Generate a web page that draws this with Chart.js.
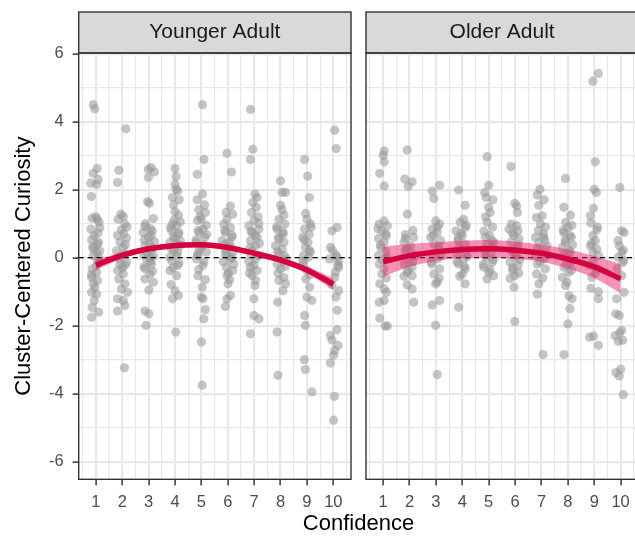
<!DOCTYPE html>
<html>
<head>
<meta charset="utf-8">
<script src="https://cdn.jsdelivr.net/npm/chart.js@4/dist/chart.umd.min.js"></script>
<style>
  html, body { margin: 0; padding: 0; background: #fff; overflow: hidden; }
  #wrap { position: relative; width: 635px; height: 537px; overflow: hidden; }
  canvas { position: absolute; top: 0; }
  #young { left: 0; }
  #old { left: 358px; }
  #xtitle {
    position: absolute; left: 78px; width: 561px; top: 510px;
    text-align: center; color: #000;
    font: 22px 'Liberation Sans', Arial, sans-serif; line-height: 26px;
  }
</style>
</head>
<body>
<div id="wrap">
  <canvas id="young" width="358" height="537"></canvas>
  <canvas id="old" width="285" height="537"></canvas>
  <div id="xtitle">Confidence</div>
</div>
<script>
// confidence levels and axis breaks
const confidence = [1, 2, 3, 4, 5, 6, 7, 8, 9, 10];
const xGrid = [0.5, 1, 1.5, 2, 2.5, 3, 3.5, 4, 4.5, 5, 5.5, 6, 6.5, 7, 7.5, 8, 8.5, 9, 9.5, 10, 10.5];
const yGrid = [-6, -5, -4, -3, -2, -1, 0, 1, 2, 3, 4, 5, 6];

// younger adults: curiosity per confidence level, plus horizontal jitter
const youngerCuriosity = [
  [4.5, 4.38, 2.62, 2.48, 2.3, 2.19, 2.15, 1.8, 1.2, 1.16, 1.13, 1.05, 0.88, 0.84, 0.72, 0.65, 0.53, 0.45, 0.4, 0.32, 0.27, 0.2, 0.16, 0.06, 0.0, -0.08, -0.14, -0.23, -0.33, -0.43, -0.5, -0.58, -0.67, -0.77, -0.87, -1.02, -1.07, -1.26, -1.46, -1.6, -1.75],
  [3.79, 2.57, 2.21, 1.28, 1.21, 1.13, 0.99, 0.9, 0.82, 0.7, 0.65, 0.57, 0.45, 0.38, 0.3, 0.2, 0.11, 0.05, -0.04, -0.14, -0.19, -0.23, -0.3, -0.38, -0.48, -0.63, -0.77, -0.92, -1.02, -1.21, -1.26, -1.41, -1.57, -3.24],
  [2.65, 2.6, 2.52, 2.36, 1.65, 1.6, 1.15, 1.0, 0.92, 0.85, 0.79, 0.74, 0.65, 0.6, 0.52, 0.47, 0.4, 0.35, 0.28, 0.23, 0.15, 0.11, 0.06, 0.0, -0.04, -0.12, -0.19, -0.27, -0.33, -0.4, -0.48, -0.63, -0.72, -0.95, -1.57, -1.65, -1.99],
  [2.62, 2.39, 2.16, 2.01, 1.96, 1.77, 1.7, 1.55, 1.35, 1.25, 1.11, 1.05, 0.99, 0.94, 0.88, 0.79, 0.74, 0.69, 0.62, 0.55, 0.5, 0.45, 0.4, 0.35, 0.28, 0.21, 0.15, 0.08, 0.02, -0.09, -0.16, -0.23, -0.3, -0.38, -0.53, -0.79, -0.97, -1.11, -1.21, -2.19],
  [4.5, 2.89, 2.45, 1.87, 1.7, 1.55, 1.41, 1.33, 1.2, 1.13, 1.09, 0.95, 0.84, 0.8, 0.74, 0.68, 0.6, 0.52, 0.45, 0.38, 0.3, 0.22, 0.16, 0.1, 0.06, -0.04, -0.12, -0.23, -0.35, -0.53, -0.65, -0.87, -1.16, -1.21, -1.53, -1.8, -2.48, -3.75],
  [3.07, 2.52, 1.52, 1.33, 1.28, 1.13, 0.99, 0.89, 0.8, 0.74, 0.66, 0.6, 0.5, 0.45, 0.4, 0.32, 0.25, 0.16, 0.11, 0.06, 0.0, -0.04, -0.12, -0.19, -0.28, -0.38, -0.45, -0.53, -0.65, -0.77, -1.11, -1.21, -1.44],
  [4.36, 3.19, 2.89, 1.87, 1.77, 1.62, 1.48, 1.33, 1.2, 1.09, 1.0, 0.94, 0.84, 0.78, 0.74, 0.65, 0.6, 0.5, 0.42, 0.35, 0.28, 0.21, 0.11, 0.06, -0.04, -0.12, -0.23, -0.28, -0.38, -0.45, -0.53, -0.67, -0.82, -1.21, -1.7, -1.8, -2.24],
  [2.26, 1.92, 1.92, 1.54, 1.41, 1.25, 1.13, 0.99, 0.9, 0.84, 0.75, 0.69, 0.6, 0.55, 0.45, 0.35, 0.25, 0.18, 0.11, 0.05, -0.04, -0.1, -0.19, -0.25, -0.33, -0.45, -0.58, -0.67, -0.77, -0.97, -1.31, -2.19, -3.46],
  [2.89, 2.4, 1.77, 1.3, 1.13, 0.99, 0.9, 0.84, 0.69, 0.6, 0.52, 0.45, 0.3, 0.22, 0.16, 0.06, 0.01, -0.1, -0.19, -0.38, -0.5, -0.63, -0.87, -1.16, -1.26, -1.7, -1.99, -3.0, -3.29, -3.95],
  [3.75, 3.21, 0.89, 0.79, 0.3, 0.21, 0.08, 0.01, -0.04, -0.12, -0.23, -0.28, -0.43, -0.58, -0.8, -0.97, -1.16, -1.55, -2.12, -2.29, -2.43, -2.58, -2.73, -2.87, -3.1, -4.08, -4.78]
];
const youngerJitter = [
  [-0.1, -0.04, 0.05, -0.1, 0.09, -0.19, 0.03, -0.17, 0.0, -0.14, 0.05, 0.12, 0.15, -0.19, 0.08, -0.06, -0.16, 0.1, 0.06, -0.12, -0.1, 0.15, 0.03, -0.1, 0.12, 0.06, 0.11, 0.03, -0.14, 0.03, -0.17, -0.16, 0.06, -0.1, -0.04, -0.16, 0.03, -0.06, -0.14, 0.11, -0.16],
  [0.14, -0.13, -0.18, -0.05, 0.04, -0.15, 0.1, 0.18, -0.03, 0.06, -0.18, 0.16, -0.09, 0.12, 0.04, -0.22, 0.1, -0.1, -0.09, 0.16, -0.09, 0.1, 0.0, -0.18, 0.04, -0.13, 0.1, -0.03, 0.2, -0.18, 0.04, 0.1, -0.18, 0.08],
  [0.09, -0.01, 0.22, -0.01, -0.04, 0.03, 0.18, -0.12, -0.14, 0.06, 0.14, -0.2, 0.1, -0.01, -0.17, 0.22, 0.03, -0.14, 0.16, 0.05, -0.08, -0.2, 0.18, 0.1, -0.08, 0.06, 0.11, -0.17, -0.14, 0.15, 0.05, -0.14, 0.18, 0.01, -0.14, 0.01, -0.1],
  [0.0, 0.04, 0.0, 0.04, 0.1, -0.1, 0.16, -0.05, 0.0, 0.13, -0.03, 0.2, -0.1, 0.06, -0.18, -0.13, 0.15, 0.13, -0.06, 0.0, 0.2, -0.19, 0.08, 0.19, -0.15, -0.06, 0.1, 0.06, -0.2, -0.13, 0.15, 0.1, -0.08, -0.19, 0.06, -0.15, 0.0, 0.13, -0.1, 0.03],
  [0.04, 0.1, -0.16, 0.04, -0.16, 0.12, -0.1, 0.15, -0.05, 0.0, -0.15, 0.18, 0.06, -0.12, -0.1, 0.2, 0.13, -0.2, -0.19, 0.08, 0.0, -0.08, 0.19, -0.14, -0.13, -0.19, 0.1, 0.06, -0.1, -0.13, 0.15, 0.03, 0.0, 0.06, 0.15, 0.09, 0.0, 0.03],
  [-0.03, 0.14, 0.1, -0.06, 0.19, -0.03, -0.15, 0.1, -0.12, -0.09, 0.16, 0.16, -0.22, 0.04, -0.09, 0.12, -0.09, 0.19, -0.09, -0.03, 0.15, 0.1, -0.17, 0.23, -0.05, 0.19, 0.02, -0.03, 0.08, 0.01, 0.1, -0.03, -0.09],
  [-0.14, -0.05, -0.14, 0.03, 0.11, -0.05, 0.08, -0.1, 0.15, -0.01, 0.18, -0.2, 0.18, -0.12, -0.08, 0.05, 0.11, -0.14, 0.2, 0.05, -0.17, -0.08, -0.14, 0.18, 0.05, -0.2, -0.01, -0.14, 0.11, -0.18, -0.08, 0.05, 0.03, -0.01, -0.01, 0.18, -0.14],
  [0.0, 0.06, 0.19, 0.0, 0.06, 0.13, -0.06, 0.16, -0.15, -0.13, 0.1, 0.09, -0.08, -0.06, 0.13, -0.19, 0.06, -0.12, -0.06, 0.15, 0.22, 0.1, -0.13, 0.18, 0.0, -0.1, 0.13, -0.06, 0.19, 0.09, -0.11, -0.13, -0.1],
  [-0.09, 0.03, 0.09, -0.05, 0.0, 0.13, 0.16, -0.09, 0.09, -0.16, -0.1, 0.04, -0.06, 0.1, 0.13, -0.13, 0.06, -0.15, -0.13, 0.0, 0.12, -0.04, 0.1, 0.0, 0.19, -0.09, -0.06, -0.1, -0.06, 0.19],
  [0.05, 0.11, 0.14, -0.05, -0.11, -0.03, 0.1, 0.14, -0.15, 0.2, 0.18, 0.2, 0.08, 0.05, -0.05, 0.2, 0.1, 0.15, 0.14, -0.11, -0.05, 0.18, 0.05, 0.01, -0.11, 0.04, 0.01]
];

// older adults
const olderCuriosity = [
  [3.14, 3.01, 2.82, 2.48, 2.11, 1.08, 0.99, 0.94, 0.85, 0.79, 0.7, 0.65, 0.57, 0.45, 0.38, 0.3, 0.18, 0.06, 0.0, -0.06, -0.19, -0.33, -0.48, -0.6, -0.77, -0.92, -1.02, -1.26, -1.31, -1.78, -2.01, -2.01],
  [3.17, 2.31, 2.23, 2.09, 1.28, 0.8, 0.68, 0.6, 0.57, 0.45, 0.35, 0.28, 0.21, 0.11, 0.05, -0.04, -0.12, -0.19, -0.28, -0.36, -0.43, -0.53, -0.55, -0.8, -0.92, -1.31],
  [2.13, 1.96, 1.74, 1.08, 0.99, 0.9, 0.84, 0.74, 0.65, 0.6, 0.5, 0.4, 0.32, 0.25, 0.11, 0.05, -0.04, -0.12, -0.19, -0.33, -0.48, -0.6, -0.72, -0.77, -1.26, -1.39, -1.99, -3.44],
  [1.99, 1.54, 1.13, 1.04, 0.95, 0.89, 0.79, 0.72, 0.65, 0.58, 0.5, 0.4, 0.32, 0.25, 0.18, 0.11, 0.03, -0.04, -0.12, -0.19, -0.26, -0.33, -0.48, -0.55, -0.77, -1.46],
  [2.97, 2.13, 1.92, 1.77, 1.7, 1.48, 1.33, 1.2, 1.04, 0.9, 0.78, 0.65, 0.6, 0.5, 0.45, 0.4, 0.32, 0.25, 0.16, 0.08, 0.01, -0.06, -0.14, -0.2, -0.28, -0.36, -0.43, -0.53, -0.63],
  [2.68, 1.6, 1.52, 1.33, 0.99, 0.94, 0.84, 0.79, 0.72, 0.65, 0.55, 0.45, 0.38, 0.3, 0.22, 0.16, 0.08, 0.01, -0.06, -0.14, -0.23, -0.3, -0.38, -0.45, -0.53, -0.61, -0.87, -1.88],
  [2.01, 1.84, 1.7, 1.54, 1.23, 1.18, 0.99, 0.9, 0.8, 0.7, 0.6, 0.6, 0.5, 0.45, 0.35, 0.28, 0.21, 0.12, 0.06, -0.04, -0.12, -0.19, -0.33, -0.48, -0.6, -0.77, -1.07, -2.85],
  [2.33, 1.48, 1.25, 1.04, 0.95, 0.89, 0.8, 0.74, 0.65, 0.6, 0.52, 0.45, 0.38, 0.3, 0.22, 0.16, 0.08, 0.01, -0.06, -0.14, -0.22, -0.28, -0.36, -0.43, -0.58, -0.72, -0.82, -1.12, -1.21, -1.5, -1.95, -2.85],
  [5.42, 5.19, 2.82, 2.01, 1.92, 1.45, 1.23, 1.02, 0.9, 0.82, 0.65, 0.5, 0.42, 0.35, 0.25, 0.16, 0.06, -0.09, -0.23, -0.33, -0.45, -0.58, -0.9, -1.0, -1.21, -2.31, -2.34, -2.58],
  [2.06, 0.79, 0.74, 0.5, 0.35, 0.22, 0.16, 0.01, -0.08, -0.14, -0.33, -0.53, -1.02, -1.21, -1.65, -1.7, -2.14, -2.21, -2.29, -2.43, -2.46, -3.28, -3.38, -3.48, -4.03]
];
const olderJitter = [
  [0.04, 0.0, 0.04, -0.13, 0.04, 0.04, -0.15, 0.16, -0.2, -0.05, 0.1, 0.13, -0.18, 0.04, -0.1, -0.09, 0.1, -0.18, 0.15, -0.03, -0.15, 0.04, -0.05, 0.12, -0.13, 0.04, 0.13, 0.04, -0.15, -0.13, 0.08, 0.16],
  [-0.09, -0.18, 0.1, -0.05, -0.08, 0.13, -0.16, 0.16, -0.15, -0.21, 0.04, -0.1, -0.15, 0.1, 0.2, -0.05, 0.12, -0.21, 0.1, -0.06, -0.09, 0.1, -0.21, -0.09, 0.1, 0.16],
  [0.14, -0.14, -0.08, -0.01, 0.14, 0.06, -0.14, 0.05, -0.1, -0.2, 0.18, -0.08, 0.1, 0.11, -0.14, 0.2, 0.05, -0.18, -0.16, 0.14, -0.08, 0.12, 0.05, -0.01, 0.14, -0.14, -0.01, 0.05],
  [-0.14, 0.11, 0.05, -0.08, 0.15, 0.11, -0.24, -0.05, 0.0, -0.16, -0.16, 0.11, -0.12, -0.08, 0.15, -0.2, 0.19, 0.05, -0.2, -0.14, 0.08, 0.11, 0.0, -0.1, 0.11, -0.14],
  [-0.06, 0.0, -0.15, -0.1, 0.16, 0.0, 0.06, -0.12, -0.06, 0.15, -0.18, 0.03, -0.13, 0.13, 0.2, -0.06, 0.1, -0.19, 0.1, -0.1, -0.1, 0.18, 0.13, -0.2, -0.19, 0.05, 0.0, 0.19, -0.06],
  [-0.16, -0.01, 0.06, 0.09, -0.14, 0.06, -0.23, 0.11, -0.1, -0.04, 0.15, -0.16, 0.12, 0.09, -0.12, -0.1, 0.05, 0.03, 0.18, -0.19, 0.11, -0.08, -0.1, 0.14, -0.01, -0.19, -0.04, -0.01],
  [-0.06, -0.16, 0.1, -0.1, 0.03, -0.19, -0.04, 0.15, -0.12, 0.08, -0.23, 0.09, 0.13, -0.1, 0.21, -0.15, -0.04, 0.18, -0.22, 0.09, -0.05, -0.16, 0.15, -0.19, 0.05, -0.1, -0.16, 0.06],
  [-0.09, -0.15, 0.1, -0.09, 0.15, 0.0, -0.18, -0.15, 0.08, 0.13, -0.1, -0.09, 0.18, -0.21, 0.05, 0.08, -0.16, -0.13, 0.12, 0.1, -0.05, -0.15, 0.15, 0.04, -0.21, -0.03, -0.09, 0.04, 0.16, 0.08, 0.0, -0.15],
  [0.16, -0.05, 0.04, 0.0, 0.08, -0.03, -0.15, -0.13, 0.12, 0.1, -0.05, 0.04, -0.1, -0.15, 0.1, -0.05, 0.16, -0.03, -0.18, 0.1, 0.05, -0.09, -0.13, 0.16, 0.16, -0.03, -0.18, 0.16],
  [-0.03, 0.04, 0.13, -0.1, -0.05, 0.1, 0.04, -0.09, 0.12, 0.08, -0.13, 0.04, 0.13, -0.15, -0.18, -0.05, 0.04, -0.03, -0.21, 0.08, -0.09, 0.0, -0.18, -0.05, 0.1]
];

// quadratic fit and its confidence band at each level
const youngerFit = [-0.22, 0.07, 0.26, 0.36, 0.38, 0.3, 0.13, -0.07, -0.36, -0.78];
const youngerHi = [-0.07, 0.16, 0.33, 0.43, 0.45, 0.37, 0.2, 0.01, -0.26, -0.61];
const youngerLo = [-0.37, -0.02, 0.19, 0.29, 0.31, 0.23, 0.06, -0.15, -0.46, -0.95];
const olderFit = [-0.12, 0.06, 0.17, 0.24, 0.26, 0.22, 0.13, -0.04, -0.27, -0.62];
const olderHi = [0.33, 0.4, 0.45, 0.5, 0.52, 0.47, 0.38, 0.25, 0.05, -0.19];
const olderLo = [-0.56, -0.27, -0.1, -0.01, 0.0, -0.03, -0.12, -0.32, -0.6, -1.05];

Chart.defaults.font.family = "'Liberation Sans', Arial, sans-serif";

function curve(vals) {
  return confidence.map((x, i) => ({ x: x, y: vals[i] }));
}

function jittered(ys, jit) {
  const out = [];
  ys.forEach((col, i) => {
    col.forEach((y, j) => out.push({ x: confidence[i] + jit[i][j], y: y }));
  });
  return out;
}

const isMajorX = v => Number.isInteger(v);
const isMajorY = v => v % 2 === 0;

// strip on top, dashed zero line, dark panel frame
const facetFrame = {
  id: 'facetFrame',
  beforeDraw(chart) {
    const { ctx, chartArea: a } = chart;
    ctx.save();
    ctx.fillStyle = '#D9D9D9';
    ctx.fillRect(a.left, 12, a.right - a.left, a.top - 12);
    ctx.restore();
  },
  afterDatasetDraw(chart, args) {
    if (args.index !== 3) return;
    const { ctx, chartArea: a } = chart;
    const y0 = chart.scales.y.getPixelForValue(0);
    ctx.save();
    ctx.strokeStyle = '#000';
    ctx.lineWidth = 1.4;
    ctx.setLineDash([5, 4]);
    ctx.beginPath();
    ctx.moveTo(a.left, y0);
    ctx.lineTo(a.right, y0);
    ctx.stroke();
    ctx.restore();
  },
  afterDraw(chart) {
    const { ctx, chartArea: a } = chart;
    ctx.save();
    ctx.strokeStyle = '#333333';
    ctx.lineWidth = 1.4;
    ctx.strokeRect(a.left, 12, a.right - a.left, a.top - 12);
    ctx.strokeRect(a.left, a.top, a.right - a.left, a.bottom - a.top);
    ctx.restore();
  }
};

function panel(id, label, ys, jit, fit, hi, lo, first) {
  return new Chart(document.getElementById(id), {
    type: 'scatter',
    data: {
      datasets: [
        { type: 'line', data: curve(fit), borderColor: '#D6003F', borderWidth: 5.5,
          pointRadius: 0, cubicInterpolationMode: 'monotone', fill: false },
        { type: 'line', data: curve(hi), borderColor: 'rgba(0,0,0,0)', pointRadius: 0,
          backgroundColor: 'rgba(236, 40, 110, 0.5)', fill: '+1', cubicInterpolationMode: 'monotone' },
        { type: 'line', data: curve(lo), borderColor: 'rgba(0,0,0,0)', pointRadius: 0,
          fill: false, cubicInterpolationMode: 'monotone' },
        { data: jittered(ys, jit), pointRadius: 4.6, borderWidth: 0,
          backgroundColor: 'rgba(150, 150, 150, 0.55)' }
      ]
    },
    options: {
      responsive: false,
      animation: false,
      events: [],
      layout: { padding: { top: 12, right: first ? 7 : 4.7, left: 0, bottom: 0 } },
      plugins: {
        legend: { display: false },
        tooltip: { enabled: false },
        title: {
          display: true, text: label, fullSize: false, color: '#1A1A1A',
          font: { size: 21, weight: 'normal' }, padding: { top: 8, bottom: 7.8 }
        }
      },
      scales: {
        x: {
          type: 'linear', min: 0.35, max: 10.67,
          afterBuildTicks: s => { s.ticks = xGrid.map(v => ({ value: v })); },
          afterFit: s => { s.height = 57.7; },
          ticks: {
            autoSkip: false, maxRotation: 0, padding: 7, color: '#4D4D4D',
            font: { size: 16.5 },
            callback: v => isMajorX(v) ? String(v) : ''
          },
          grid: {
            color: '#E8E8E8',
            lineWidth: c => (c.tick && isMajorX(c.tick.value)) ? 2.2 : 1.2,
            tickLength: 6, tickWidth: 1.5,
            tickColor: c => (c.tick && isMajorX(c.tick.value)) ? '#333333' : 'rgba(0,0,0,0)'
          },
          border: { display: false }
        },
        y: {
          type: 'linear', min: -6.52, max: 6.02,
          afterBuildTicks: s => { s.ticks = yGrid.map(v => ({ value: v })); },
          afterFit: s => { s.width = first ? 78.7 : 8; },
          ticks: {
            display: first, padding: 9, color: '#4D4D4D', font: { size: 16.5 },
            callback: v => isMajorY(v) ? String(v) : ''
          },
          grid: {
            color: '#E8E8E8',
            lineWidth: c => (c.tick && isMajorY(c.tick.value)) ? 2.2 : 1.2,
            drawTicks: first, tickLength: 6, tickWidth: 1.5,
            tickColor: c => (c.tick && isMajorY(c.tick.value)) ? '#333333' : 'rgba(0,0,0,0)'
          },
          border: { display: false },
          title: {
            display: first, text: 'Cluster-Centered Curiosity', color: '#000',
            font: { size: 22 }, padding: { top: 11, bottom: 0 }
          }
        }
      }
    },
    plugins: [facetFrame]
  });
}

panel('young', 'Younger Adult', youngerCuriosity, youngerJitter, youngerFit, youngerHi, youngerLo, true);
panel('old', 'Older Adult', olderCuriosity, olderJitter, olderFit, olderHi, olderLo, false);
</script>
</body>
</html>
